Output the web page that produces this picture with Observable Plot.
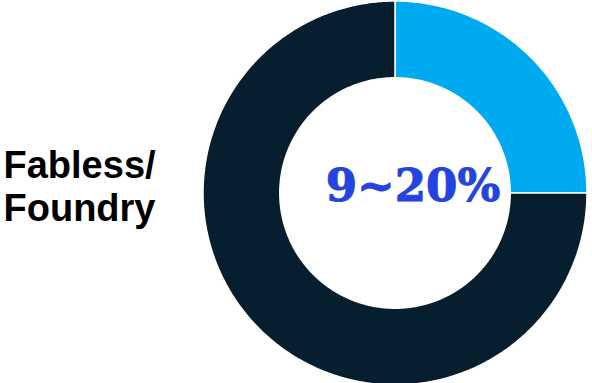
<!DOCTYPE html>
<html>
<head>
<meta charset="utf-8">
<script src="https://cdn.jsdelivr.net/npm/d3@7"></script>
<script src="https://cdn.jsdelivr.net/npm/@observablehq/plot@0.6"></script>
<style>
  html, body { margin: 0; padding: 0; background: #fff; overflow: hidden; }
  #chart { width: 592px; height: 383px; }
</style>
</head>
<body>
<div id="chart"></div>
<script>
// Data
const segments = ["Fabless/Foundry", "Other"];
const shares = [25, 75];
const segmentColors = ["#00aaf0", "#071e2f"];
const centerLabel = "9~20%";
const sideLabel = "Fabless/\nFoundry";

const innerRatio = 0.6;

// Build slice polygons from d3.pie angles
const pie = d3.pie().sort(null).value(d => d.value)(
  segments.map((s, i) => ({ segment: s, value: shares[i] }))
);
const pts = [];
pie.forEach(p => {
  const steps = Math.max(8, Math.ceil((p.endAngle - p.startAngle) / 0.01));
  const ring = [];
  for (let i = 0; i <= steps; i++) {
    const a = p.startAngle + (p.endAngle - p.startAngle) * i / steps;
    ring.push([Math.sin(a), Math.cos(a)]);
  }
  for (let i = steps; i >= 0; i--) {
    const a = p.startAngle + (p.endAngle - p.startAngle) * i / steps;
    ring.push([innerRatio * Math.sin(a), innerRatio * Math.cos(a)]);
  }
  ring.push(ring[0]);
  ring.forEach(([x, y]) => pts.push({ segment: p.data.segment, x, y }));
});

const chart = Plot.plot({
  width: 592,
  height: 383,
  margin: 0,
  x: { domain: [-1, 1], range: [202.5, 586.5], axis: null },
  y: { domain: [-1, 1], range: [384.5, 0.5], axis: null },
  color: { domain: segments, range: segmentColors },
  style: { background: "#fff", overflow: "hidden" },
  marks: [
    Plot.line(pts, {
      x: "x", y: "y", z: "segment",
      fill: "segment", stroke: "#fff", strokeWidth: 1.5,
      curve: "linear"
    }),
    Plot.text([centerLabel], {
      x: 0, y: 0, text: d => d, dx: 18, dy: -6,
      fill: "#2443e0",
      fontFamily: "DejaVu Serif",
      fontWeight: "bold",
      fontSize: 45,
      textAnchor: "middle",
      stroke: "#2443e0", strokeWidth: 1,
      style: "letter-spacing: 4px"
    }),
    Plot.text([sideLabel], {
      frameAnchor: "left", text: d => d, dx: 3, dy: -6,
      fill: "#000",
      fontFamily: "Liberation Sans",
      fontWeight: "bold",
      fontSize: 38,
      lineHeight: 1.13,
      textAnchor: "start"
    })
  ]
});
document.getElementById("chart").appendChild(chart);
</script>
</body>
</html>
